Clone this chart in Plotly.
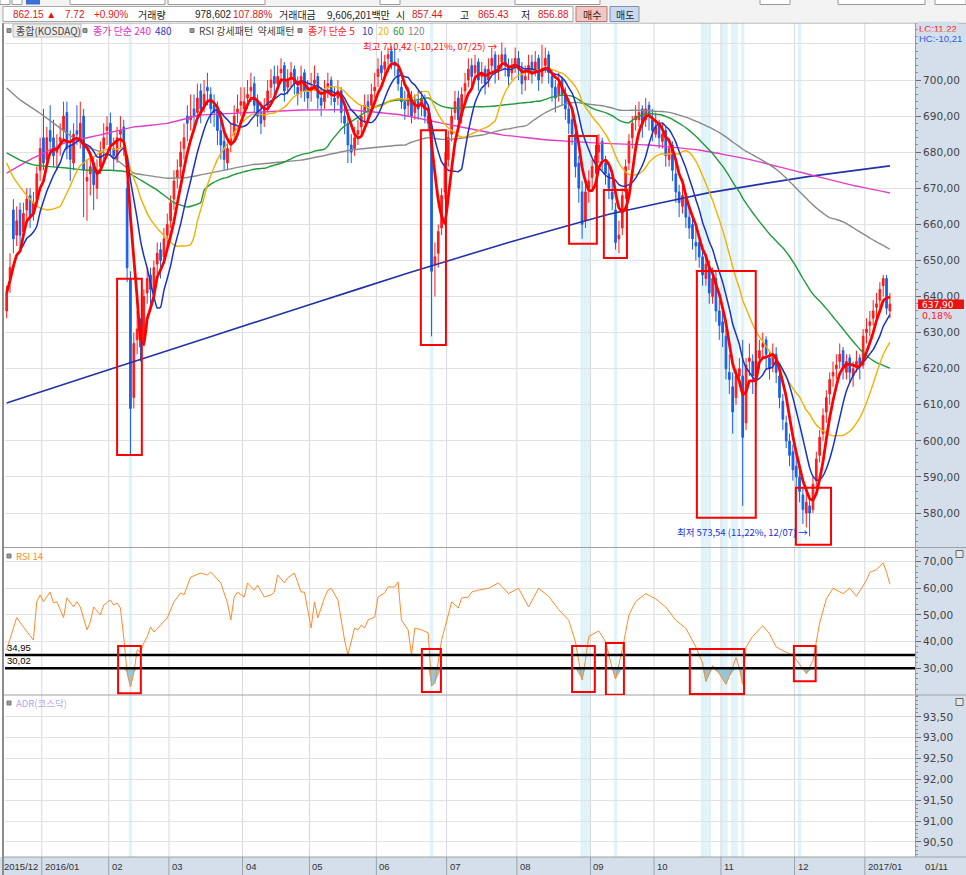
import numpy as np
import pandas as pd
import plotly.graph_objects as go

# ---------------- data ----------------
month_labels = ["2015/12", "2016/01", "02", "03", "04", "05", "06", "07",
                "08", "09", "10", "11", "12", "2017/01"]
month_days = [11, 20, 18, 22, 20, 20, 21, 21, 22, 19, 20, 22, 21, 8]

open_ = [
    636, 645, 664, 657, 664, 658, 664, 668, 663, 667, 675,
    684, 678, 686, 684, 680, 683, 686, 691, 682, 677, 686, 684, 690, 672, 674, 677, 670, 676, 681, 686,
    688, 681, 678, 685, 687, 670, 645, 612, 628, 632, 628, 641, 646, 641, 649, 653, 651, 657,
    661, 667, 673, 676, 681, 690, 689, 692, 691, 697, 693, 698, 696, 693, 692, 686, 683, 677, 682, 685, 691, 693,
    692, 695, 697, 699, 694, 691, 689, 693, 698, 701, 699, 702, 704, 698, 701, 703, 698, 697, 702, 698,
    697, 699, 701, 695, 694, 698, 700, 695, 695, 697, 690, 688, 682, 681, 685, 687, 691, 694, 693, 697,
    701, 704, 703, 706, 708, 705, 703, 698, 694, 693, 695, 691, 694, 693, 694, 690, 687, 649, 652, 659, 669,
    678, 685, 691, 695, 690, 697, 700, 704, 702, 705, 701, 703, 700, 704, 707, 703, 705, 707, 704, 702, 704,
    706, 703, 700, 702, 705, 703, 706, 701, 704, 707, 701, 698, 696, 700, 696, 692, 689, 685, 677, 669, 661, 670,
    673, 677, 680, 683, 677, 674, 669, 664, 656, 659, 669, 677, 684, 689, 689, 692, 689, 693, 689,
    685, 688, 683, 686, 678, 682, 674, 669, 665, 667, 662, 660, 655, 655, 651, 645, 648, 640, 645, 636,
    633, 629, 619, 615, 612, 618, 618, 605, 622, 622, 617, 623, 626, 628, 623, 621, 624, 618, 611, 605, 600, 597,
    593, 590, 585, 580, 582, 581, 589, 596, 602, 608, 613, 618, 620, 622, 625, 619, 623, 618, 621, 623, 621,
    630, 632, 634, 637, 639, 643, 645, 636]
high = [
    643, 652, 667, 665, 666, 666, 670, 670, 669, 676, 684,
    692, 687, 693, 689, 685, 688, 694, 694, 686, 688, 693, 694, 692, 678, 680, 679, 678, 683, 688, 690,
    691, 684, 687, 690, 689, 672, 647, 630, 636, 634, 642, 648, 648, 650, 655, 655, 659, 663,
    668, 675, 678, 683, 688, 693, 696, 696, 699, 699, 700, 702, 698, 696, 694, 689, 686, 684, 688, 693, 696, 698,
    698, 700, 702, 701, 696, 694, 695, 700, 703, 704, 704, 706, 705, 703, 705, 704, 701, 704, 703, 700,
    702, 704, 702, 698, 700, 702, 701, 698, 700, 698, 693, 690, 685, 687, 689, 693, 696, 696, 699, 702,
    706, 708, 707, 709, 709.5, 709, 706, 700, 697, 698, 697, 696, 697, 697, 696, 693, 689, 655, 660, 670, 680,
    686, 692, 697, 697, 698, 702, 706, 706, 707, 706, 705, 704, 706, 709, 708, 707, 710.42, 709, 706, 706, 709,
    708, 705, 704, 707, 707, 708, 707, 709.8, 709, 708, 703, 700, 702, 701, 698, 694, 692, 688, 679, 672, 671, 675,
    678, 682, 685, 684, 679, 676, 672, 666, 661, 670, 678, 685, 690, 693, 694, 693, 695, 694, 692,
    691, 689, 688, 687, 684, 683, 677, 671, 671, 669, 665, 662, 659, 657, 653, 652, 650, 648, 647, 639,
    636, 631, 624, 619, 620, 623, 628, 623, 627, 624, 625, 628, 630, 629, 625, 627, 626, 620, 613, 607, 602, 599,
    596, 592, 587, 586, 585, 590, 597, 603, 609, 614, 619, 622, 624, 627, 626, 624, 624, 622, 625, 624, 631,
    634, 636, 639, 641, 644, 646, 646, 641]
low = [
    634, 641, 652, 654, 653, 656, 660, 659, 661, 665, 672,
    675, 676, 680, 676, 675, 679, 683, 678, 672, 675, 682, 681, 662, 661, 668, 664, 667, 674, 678, 682,
    679, 675, 677, 681, 679, 644, 596, 609, 624, 622, 627, 638, 638, 640, 646, 645, 649, 654,
    659, 664, 670, 673, 678, 683, 686, 686, 689, 688, 691, 693, 688, 687, 682, 678, 675, 675, 680, 683, 688, 690,
    690, 692, 694, 691, 687, 685, 687, 691, 695, 696, 697, 699, 694, 696, 698, 696, 693, 695, 694, 692,
    694, 697, 692, 690, 692, 695, 693, 691, 693, 688, 685, 677, 677, 679, 682, 685, 688, 688, 691, 695,
    698, 700, 701, 702, 703, 701, 697, 692, 689, 690, 688, 689, 689, 690, 688, 686, 629, 640, 648, 657, 667,
    676, 683, 689, 686, 688, 694, 698, 698, 700, 697, 699, 696, 698, 702, 699, 700, 703, 701, 698, 700, 702,
    700, 696, 697, 700, 699, 701, 697, 699, 702, 699, 694, 691, 694, 693, 689, 685, 682, 673, 666, 656, 659, 666,
    670, 674, 677, 675, 671, 667, 664, 653, 652, 657, 667, 675, 681, 686, 687, 684, 687, 686, 683,
    684, 681, 681, 676, 676, 672, 666, 662, 663, 659, 656, 653, 650, 648, 643, 643, 638, 638, 633, 628,
    626, 617, 613, 602, 610, 615, 582, 603, 618, 613, 615, 620, 623, 620, 617, 619, 616, 609, 603, 598, 593, 589,
    587, 583, 577, 576, 573.54, 580, 587, 594, 600, 605, 610, 615, 617, 620, 617, 617, 616, 615, 619, 617, 620,
    627, 629, 632, 634, 637, 640, 635, 634]
close = [
    641, 648, 656, 661, 657, 663, 667, 662, 666, 674, 681,
    677, 684, 683, 679, 681, 684, 690, 681, 678, 685, 685, 688, 675, 673, 676, 671, 675, 680, 684, 687,
    682, 679, 684, 686, 683, 648, 609, 627, 631, 626, 640, 645, 642, 648, 652, 650, 656, 660,
    666, 672, 675, 680, 684, 688, 690, 690, 695, 692, 696, 697, 692, 691, 686, 682, 678, 681, 684, 690, 692, 694,
    694, 696, 698, 693, 690, 688, 692, 697, 700, 699, 701, 703, 697, 700, 702, 699, 696, 701, 697, 695,
    698, 700, 695, 693, 697, 699, 696, 694, 697, 691, 688, 682, 680, 684, 686, 690, 693, 692, 696, 698,
    703, 702, 705, 707, 705, 704, 699, 694, 692, 696, 690, 694, 692, 695, 690, 688, 647, 651, 658, 668, 677,
    684, 690, 694, 689, 696, 699, 703, 701, 704, 700, 702, 699, 703, 706, 702, 704, 707, 704, 701, 703, 706,
    703, 699, 701, 704, 702, 705, 700, 703, 706, 702, 698, 695, 699, 696, 692, 688, 685, 676, 670, 660, 669, 672,
    676, 679, 682, 678, 674, 670, 667, 655, 657, 668, 676, 683, 688, 690, 691, 688, 692, 690, 686,
    687, 684, 685, 679, 681, 675, 669, 666, 668, 662, 659, 656, 654, 651, 646, 649, 641, 645, 636, 632,
    630, 620, 617, 608, 618, 620, 601, 621, 623, 618, 622, 625, 627, 624, 620, 624, 619, 612, 606, 600, 596, 592,
    590, 586, 581, 583, 580, 588, 595, 601, 607, 612, 617, 619, 621, 624, 620, 622, 619, 620, 622, 621, 629,
    631, 633, 636, 638, 642, 645, 636.76, 637.9]

ma20_head_day = [0, 2, 4, 6, 8, 10, 12, 14, 16, 18]
ma20_head_val = [677, 673, 670.4, 668, 666, 664.5, 664, 664.3, 665, 668.7]
ma60_head_day = [0, 4, 8, 13, 18, 24, 31, 36, 40, 45, 50, 54, 58]
ma60_head_val = [679.8, 677.8, 676.5, 676, 675.6, 675, 675, 674.5, 672.3, 669.5, 666, 664.8, 666]
ma120_head_day = [0, 4, 10, 18, 24, 31, 38, 41, 48, 54, 58, 73, 88, 103, 118]
ma120_head_val = [697.8, 694.5, 690.8, 685.3, 681.4, 679.2, 674.2, 673.7, 672.8, 673, 673.7,
                  676.5, 677.8, 680.6, 682]
ma240_day = [0, 8, 18, 28, 38, 48, 58, 73, 88, 103, 118, 133, 148, 162, 177, 192, 207, 222, 237, 252, 264]
ma240_val = [674.2, 678.4, 682.8, 684.8, 687, 688, 690.3, 691, 691.7, 691.7, 690.3, 687.5,
             684.8, 683.4, 682.5, 682, 680.6, 678, 674.5, 671, 668.7]
ma480_day = [0, 30, 60, 90, 120, 150, 180, 210, 240, 264]
ma480_val = [610.5, 619.6, 628.6, 637.6, 646.5, 655.0, 662.8, 668.8, 673.3, 676.2]

rsi_day = [0, 3, 5, 8, 9, 10, 11, 13, 14, 15, 17, 18, 20, 21, 22, 24, 25, 26, 28, 29, 31, 32, 33, 34,
           35, 36, 37, 38, 39, 40, 41, 42, 43, 44, 46, 48, 50, 52, 53, 55, 58, 60, 61, 64, 66, 67, 68,
           69, 71, 72, 74, 75, 77, 79, 80, 81, 83, 84, 86, 88, 89, 91, 92, 93, 95, 96, 97, 99, 101,
           102, 104, 105, 106, 107, 108, 110, 111, 113, 114, 116, 117, 118, 120, 121, 122, 124, 126,
           127, 128, 130, 132, 133, 135, 136, 138, 139, 141, 144, 147, 150, 153, 156, 159, 162, 165,
           168, 170, 172, 173, 174, 177, 179, 181, 182, 184, 186, 188, 191, 194, 197, 200, 203, 206,
           208, 209, 211, 213, 215, 216, 218, 219, 220, 221, 223, 226, 228, 230, 233, 235, 238, 239,
           241, 243, 245, 247, 250, 252, 254, 257, 258, 260, 262, 263, 264]
rsi_val = [37, 49, 45.5, 40.6, 55, 57.5, 55, 58.6, 54.5, 55, 49, 56.4, 53, 55, 53, 44.4, 47.4, 53, 50,
           53.7, 55.6, 53.7, 54.5, 52.6, 41.4, 28.2, 23, 28.2, 36.9, 36.1, 39.5, 41.8, 45.5, 43.6,
           46.2, 48.9, 54.9, 58.3, 57.5, 64.2, 65.7, 65, 66.1, 62, 54.5, 48.1, 56.7, 58.6, 56.7, 62,
           59.3, 61.2, 56.7, 57.5, 58.6, 65, 62, 63.9, 65.7, 58.6, 58.6, 45.1, 54.9, 48.9, 56.4, 59.3,
           60, 55.6, 40.6, 35, 45.1, 44.4, 46.2, 45.1, 48.1, 49.2, 56.7, 58.3, 60.5, 60.5, 62.4, 48.1,
           44.4, 35, 45.1, 44.4, 43.3, 23.4, 24.5, 40.6, 50, 54.9, 52.6, 56.4, 56.7, 58.6, 59.3, 60,
           62, 58, 60, 53, 60, 57, 52, 48, 40, 25.6, 33, 42, 44, 40, 30, 26, 37, 50, 55, 58, 56, 53,
           48, 45, 38, 32, 25, 31, 28, 24, 27, 34, 30, 24, 38, 42, 46, 43, 38, 36, 35, 30, 28, 33, 47,
           56, 60, 58, 60, 57, 63, 66, 67, 69.5, 66, 61.5]
rsi_levels = [34.95, 30.02]
signal_days = [37, 127, 172, 173, 174, 182, 208, 209, 210, 214, 215, 217, 218, 220, 237]

price_ticks = list(range(580, 711, 10))
rsi_ticks = [30, 40, 50, 60, 70]
adr_ticks = [90.5, 91.0, 91.5, 92.0, 92.5, 93.0, 93.5]
hi_label = "최고 710,42 (-10,21%, 07/25) →"
lo_label = "최저 573,54 (11,22%, 12/07) →"
last_label = "637,90"
last_pct = "0,18%"

# ---------------- derived series ----------------
N = len(close)
day = np.arange(N)
month_start = np.concatenate([[0], np.cumsum(month_days)[:-1]])
cl = pd.Series(close, dtype=float)
ma5 = cl.rolling(5, min_periods=1).mean()
ma10 = cl.rolling(10, min_periods=1).mean()


def joined(head_d, head_v, w):
    comp = cl.rolling(w).mean()
    xs = list(head_d) + list(range(w - 1, N))
    ys = list(head_v) + list(comp.values[w - 1:])
    return xs, ys


ma20_x, ma20_y = joined(ma20_head_day, ma20_head_val, 20)
ma60_x, ma60_y = joined(ma60_head_day, ma60_head_val, 60)
ma120_x, ma120_y = joined(ma120_head_day, ma120_head_val, 120)

# ---------------- layout geometry (pixels) ----------------
W, H = 966, 875
ML, MR, MT, MB = 5, 51, 23, 18
PW, PH = W - ML - MR, H - MT - MB


def fx(px):
    return (px - ML) / PW


def fy(py):
    return (H - MB - py) / PH


XR = [-0.5, 271.5]
FONT = "Noto Sans CJK KR, Noto Sans, sans-serif"
NUMFONT = "DejaVu Sans, sans-serif"
NARROW = "Liberation Sans, Arial, sans-serif"
AXBG = "#d5dfec"

fig = go.Figure()

fig.add_trace(go.Candlestick(
    x=day, open=open_, high=high, low=low, close=close, xaxis="x", yaxis="y",
    increasing=dict(line=dict(color="#ff1a1a", width=1), fillcolor="#ff1a1a"),
    decreasing=dict(line=dict(color="#1a5ee6", width=1), fillcolor="#1a5ee6"),
    whiskerwidth=0, showlegend=False, hoverinfo="skip"))

lines = [
    (ma480_day, ma480_val, "#2232a8", 1.6),
    (ma240_day, ma240_val, "#e23cc8", 1.4),
    (ma120_x, ma120_y, "#8a8a8a", 1.4),
    (ma60_x, ma60_y, "#1f9a3a", 1.4),
    (ma20_x, ma20_y, "#f4b000", 1.4),
    (day, ma10, "#1a33c2", 1.5),
    (day, ma5, "#ff0000", 2.8),
]
for xs, ys, c, w in lines:
    fig.add_trace(go.Scatter(x=xs, y=ys, mode="lines", line=dict(color=c, width=w, shape="spline",
                                                                   smoothing=0.3),
                             yaxis="y", showlegend=False, hoverinfo="skip"))

# RSI panel
rsi_arr = np.array(rsi_val, dtype=float)
fig.add_trace(go.Scatter(x=rsi_day, y=[rsi_levels[1]] * len(rsi_day), mode="lines",
                         line=dict(width=0, color="rgba(0,0,0,0)"), yaxis="y2",
                         showlegend=False, hoverinfo="skip"))
fig.add_trace(go.Scatter(x=rsi_day, y=np.minimum(rsi_arr, rsi_levels[1]), mode="lines",
                         line=dict(width=0, color="rgba(0,0,0,0)"), fill="tonexty",
                         fillcolor="#95c6d8", yaxis="y2", showlegend=False, hoverinfo="skip"))
fig.add_trace(go.Scatter(x=rsi_day, y=rsi_val, mode="lines", line=dict(color="#ff8a2a", width=1),
                         yaxis="y2", showlegend=False, hoverinfo="skip"))
# ADR panel (no line visible)
fig.add_trace(go.Scatter(x=[None], y=[None], yaxis="y3", showlegend=False, hoverinfo="skip"))

shapes = []
annots = []

# backgrounds
shapes.append(dict(type="rect", xref="paper", yref="paper", x0=1, x1=fx(W), y0=fy(H), y1=1,
                   fillcolor=AXBG, line=dict(width=0), layer="below"))
shapes.append(dict(type="rect", xref="paper", yref="paper", x0=fx(0), x1=1, y0=fy(H), y1=0,
                   fillcolor=AXBG, line=dict(width=0), layer="below"))
# signal bands
for d in signal_days:
    shapes.append(dict(type="rect", xref="x", yref="paper", x0=d - 0.5, x1=d + 0.5, y0=0, y1=1,
                       fillcolor="#dff3fb", line=dict(width=0), layer="below"))
# month grid lines
for k in range(1, len(month_start)):
    xm = month_start[k] - 0.5
    shapes.append(dict(type="line", xref="x", yref="paper", x0=xm, x1=xm, y0=0, y1=1,
                       line=dict(color="#d9d9d9", width=1), layer="below"))
    shapes.append(dict(type="line", xref="x", yref="paper", x0=xm, x1=xm, y0=fy(H), y1=0,
                       line=dict(color="#9aa3ad", width=1)))
for k, lab in enumerate(month_labels):
    annots.append(dict(x=month_start[k] - 0.5, y=fy(866), xref="x", yref="paper", text=lab,
                       showarrow=False, xanchor="left", yanchor="middle", xshift=1 if k else -3,
                       font=dict(family=NARROW, size=9.5, color="#333")))
annots.append(dict(x=fx(923), y=fy(866), xref="paper", yref="paper", text="01/11", showarrow=False,
                   xanchor="left", yanchor="middle", font=dict(family=NARROW, size=9.5, color="#333")))

# panel separators and borders
for yy in [547.5, 695, 857]:
    shapes.append(dict(type="line", xref="paper", yref="paper", x0=fx(3), x1=fx(W), y0=fy(yy), y1=fy(yy),
                       line=dict(color="#a0a0a0", width=1)))
shapes.append(dict(type="line", xref="paper", yref="paper", x0=fx(3), x1=fx(3), y0=fy(H), y1=1,
                   line=dict(color="#8c8c8c", width=2)))
shapes.append(dict(type="line", xref="paper", yref="paper", x0=fx(3), x1=fx(W), y0=1, y1=1,
                   line=dict(color="#a0a0a0", width=1)))

# RSI threshold lines
for lv in rsi_levels:
    shapes.append(dict(type="line", xref="paper", yref="y2", x0=0, x1=1, y0=lv, y1=lv,
                       line=dict(color="#000", width=2.5)))
for lv, txt in [(rsi_levels[0], "34,95"), (rsi_levels[1], "30,02")]:
    annots.append(dict(x=fx(5), y=lv, xref="paper", yref="y2", text=txt, showarrow=False,
                       xanchor="left", yanchor="bottom", yshift=0,
                       font=dict(family=NARROW, size=9.5, color="#000")))

# red hand-drawn boxes (day range, value range)
boxes_main = [(33.0, 40.4, 596.1, 644.9), (123.8, 131.3, 626.6, 686.1), (168.1, 176.4, 654.6, 684.5),
              (178.5, 185.4, 650.7, 669.5), (206.3, 223.9, 578.7, 647.1), (235.9, 246.4, 571.2, 587.0)]
boxes_rsi = [(33.3, 40.1, 20.7, 38.4), (124.1, 129.8, 21.1, 37.2), (169.0, 175.8, 21.1, 38.4),
             (179.1, 184.5, 20.1, 39.5), (204.2, 220.4, 20.4, 37.2), (235.3, 241.8, 25.2, 38.4)]
for x0, x1, y0, y1 in boxes_main:
    shapes.append(dict(type="rect", xref="x", yref="y", x0=x0, x1=x1, y0=y0, y1=y1,
                       line=dict(color="#ff0000", width=2)))
for x0, x1, y0, y1 in boxes_rsi:
    shapes.append(dict(type="rect", xref="x", yref="y2", x0=x0, x1=x1, y0=y0, y1=y1,
                       line=dict(color="#ff0000", width=2)))

# high / low annotations
annots.append(dict(x=148, y=710.42, xref="x", yref="y", text=hi_label, showarrow=False,
                   xanchor="right", yanchor="middle", xshift=-2, yshift=-4,
                   font=dict(family=FONT, size=9.5, color="#ff1010")))
annots.append(dict(x=240, y=573.54, xref="x", yref="y", text=lo_label, showarrow=False,
                   xanchor="right", yanchor="middle", xshift=0, yshift=4,
                   font=dict(family=FONT, size=9.5, color="#2030e0")))


# legend row
def square(px, py):
    shapes.append(dict(type="rect", xref="paper", yref="paper", x0=fx(px), x1=fx(px + 4),
                       y0=fy(py + 2), y1=fy(py - 2), fillcolor="#9a9a9a", line=dict(color="#777", width=1)))


def label(px, py, txt, color, size=10, fam=FONT, anchor="left", bg=None):
    d = dict(x=fx(px), y=fy(py), xref="paper", yref="paper", text=txt, showarrow=False,
             xanchor=anchor, yanchor="middle", font=dict(family=fam, size=size, color=color))
    if bg:
        d["bgcolor"] = bg
    annots.append(d)


LY = 30.5
shapes.append(dict(type="rect", xref="paper", yref="paper", x0=fx(13), x1=fx(81), y0=fy(37), y1=fy(24),
                   fillcolor="#ececec", line=dict(color="#bdbdbd", width=1)))
square(7, LY); label(14, LY, "종합(KOSDAQ)", "#444")
square(83, LY); label(91, LY, "종가 단순 240", "#e030c8"); label(153, LY, "480", "#3040c0")
square(190, LY); label(197, LY, "RSI 강세패턴  약세패턴", "#444")
square(298, LY); label(306, LY, "종가 단순 5", "#ff1a1a"); label(360, LY, "10", "#3040c0")
label(376, LY, "20", "#f4b000"); label(391, LY, "60", "#1f9a3a"); label(406, LY, "120", "#888")
square(7, 556); label(14, 556, "RSI 14", "#ff8a2a", 9.5)
square(7, 703); label(14, 703, "ADR(코스닥)", "#b4a6ee", 9.5)
for yy in [554, 702]:
    shapes.append(dict(type="rect", xref="paper", yref="paper", x0=fx(956), x1=fx(963),
                       y0=fy(yy + 3.5), y1=fy(yy - 3.5), fillcolor="#e8e8e8", line=dict(color="#666", width=1)))

# right axis extras
label(917, 29, "LC:11,22", "#ff2020", 9.5, NARROW, bg=AXBG)
label(917, 39, "HC:-10,21", "#2a5ee0", 9.5, NARROW, bg=AXBG)
shapes.append(dict(type="rect", xref="paper", yref="paper", x0=fx(918), x1=fx(964),
                   y0=fy(309), y1=fy(299.5), fillcolor="#ee1111", line=dict(width=0)))
label(920, 304.5, last_label, "#ffffff", 9, NUMFONT)
label(920, 315, last_pct, "#ff2020", 9.5, NUMFONT)

# top information bar
shapes.append(dict(type="rect", xref="paper", yref="paper", x0=fx(0), x1=fx(W), y0=fy(22.5), y1=fy(0),
                   fillcolor="#f3f3f3", line=dict(width=0)))
shapes.append(dict(type="rect", xref="paper", yref="paper", x0=fx(3), x1=fx(573), y0=fy(21.5), y1=fy(6.5),
                   fillcolor="#ffffff", line=dict(color="#a8a8a8", width=1)))
for a, b in [(0, 10), (12, 22), (70, 165), (168, 265), (380, 400), (515, 600), (760, 790), (838, 925), (935, 966)]:
    shapes.append(dict(type="rect", xref="paper", yref="paper", x0=fx(a), x1=fx(b), y0=fy(4.5), y1=fy(-2),
                       fillcolor="#ffffff", line=dict(color="#9a9a9a", width=1)))
shapes.append(dict(type="rect", xref="paper", yref="paper", x0=fx(26), x1=fx(40), y0=fy(4.5), y1=fy(-2),
                   fillcolor="#3a6fd8", line=dict(width=0)))
shapes.append(dict(type="rect", xref="paper", yref="paper", x0=fx(576), x1=fx(607), y0=fy(21.5), y1=fy(6.5),
                   fillcolor="#f4c6c2", line=dict(color="#b08080", width=1)))
shapes.append(dict(type="rect", xref="paper", yref="paper", x0=fx(610), x1=fx(639), y0=fy(21.5), y1=fy(6.5),
                   fillcolor="#c9d9ef", line=dict(color="#8090b0", width=1)))
RED, BLK = "#e01818", "#222"
for px, txt, col, anc, fam in [(58, "862.15 ▲", RED, "right", NARROW), (87, "7.72", RED, "right", NARROW),
                               (92, "+0.90%", RED, "left", NARROW), (136, "거래량", BLK, "left", FONT),
                               (234, "978,602", BLK, "right", NARROW), (275, "107.88%", RED, "right", NARROW),
                               (277, "거래대금", BLK, "left", FONT), (392, "9,606,201백만", BLK, "right", FONT),
                               (394, "시", BLK, "left", FONT), (445, "857.44", RED, "right", NARROW),
                               (458, "고", BLK, "left", FONT), (511, "865.43", RED, "right", NARROW),
                               (519, "저", BLK, "left", FONT), (571, "856.88", RED, "right", NARROW),
                               (591.5, "매수", BLK, "center", FONT), (624.5, "매도", BLK, "center", FONT)]:
    label(px, 14, txt, col, 10, fam, anc)

axis_common = dict(side="right", showgrid=True, gridcolor="#e2e2e2", gridwidth=1, zeroline=False,
                   ticks="outside", ticklen=5, tickcolor="#6b6b6b", showline=True, linecolor="#9a9a9a",
                   tickfont=dict(family=NUMFONT, size=10.5, color="#444"),
                   anchor="x", fixedrange=True)
price_text = ["" if v == 710 else f"{v},00" for v in price_ticks]
rsi_text = [f"{v},00" for v in rsi_ticks]
adr_text = [f"{v:.2f}".replace(".", ",") for v in adr_ticks]

fig.update_layout(
    width=W, height=H, margin=dict(l=ML, r=MR, t=MT, b=MB, pad=0),
    paper_bgcolor="#ffffff", plot_bgcolor="#ffffff",
    showlegend=False, hovermode=False,
    xaxis=dict(domain=[0, 1], range=XR, showgrid=False, zeroline=False, showticklabels=False,
               ticks="", showline=False, rangeslider=dict(visible=False), fixedrange=True),
    yaxis=dict(domain=[fy(547), 1], range=[570.6, 715.8], tickvals=price_ticks, ticktext=price_text,
               minor=dict(ticks="outside", ticklen=2, tickcolor="#8a8a8a", dtick=2, showgrid=False),
               **axis_common),
    yaxis2=dict(domain=[fy(695), fy(548)], range=[20, 75.1], tickvals=rsi_ticks, ticktext=rsi_text,
                minor=dict(ticks="outside", ticklen=2, tickcolor="#8a8a8a", dtick=2, showgrid=False),
                **axis_common),
    yaxis3=dict(domain=[0, fy(696)], range=[90.14, 94.0], tickvals=adr_ticks, ticktext=adr_text,
                minor=dict(ticks="outside", ticklen=2, tickcolor="#8a8a8a", dtick=0.1, showgrid=False),
                **axis_common),
    shapes=shapes, annotations=annots,
)

fig.write_html("out.html", config={"displayModeBar": False},
               post_script="document.body.style.margin='0';document.body.style.overflow='hidden';")
